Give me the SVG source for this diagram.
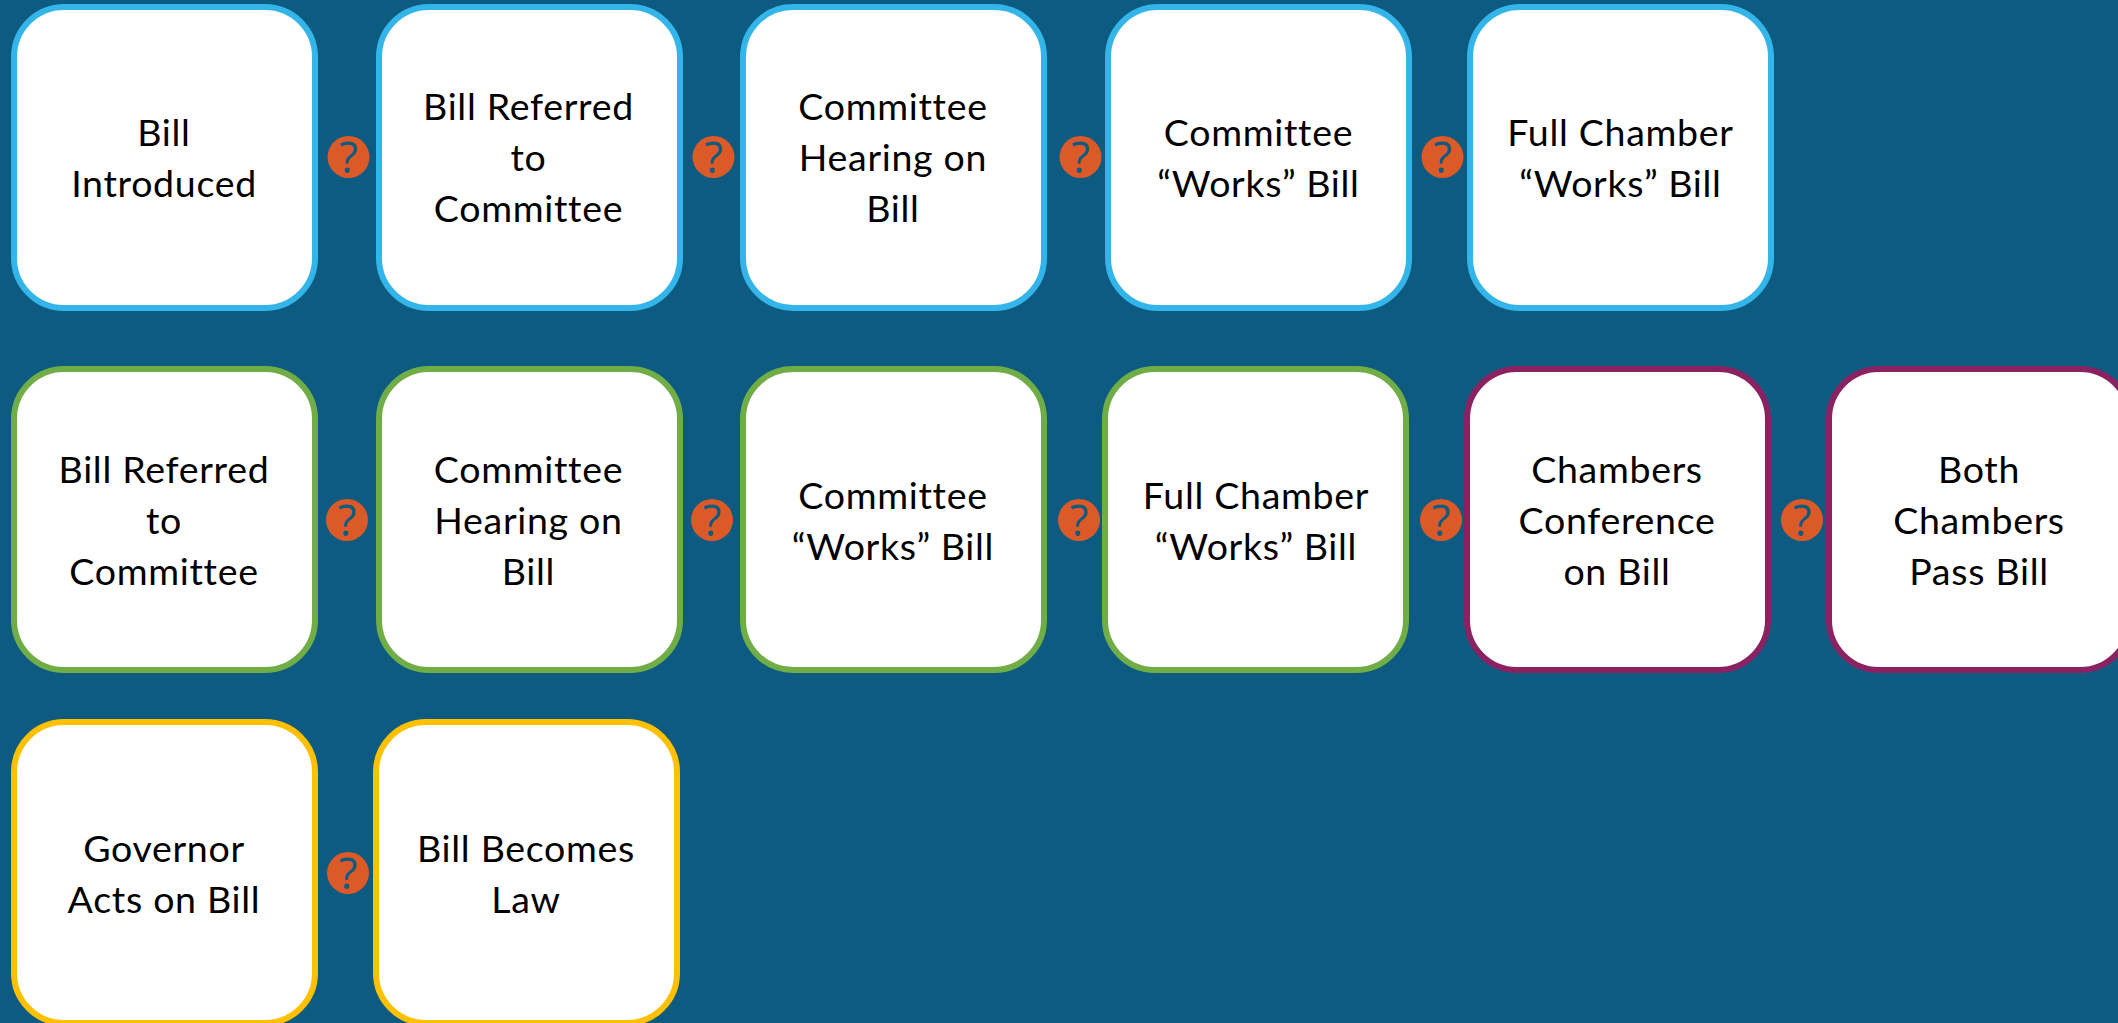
<svg xmlns="http://www.w3.org/2000/svg" width="2118" height="1023" viewBox="0 0 2118 1023">
<style>
.box{fill:#fff;stroke-width:6}
.blue{stroke:#33B5EA}.green{stroke:#70AD47}.purple{stroke:#8A2262}.gold{stroke:#FFC000}
.t{font-family:"Lato","Open Sans",sans-serif;font-size:37.5px;letter-spacing:.7px;fill:#000;text-anchor:middle}
.ic{fill:#DC5A28}
.q{font-family:"Open Sans",sans-serif;font-size:43px;fill:#0D5B80;text-anchor:middle}
</style>
<rect width="2118" height="1023" fill="#0D5B80"/>
<g id="connectors"></g>
<g id="n1"><rect class="box blue" x="14" y="7" width="301" height="301" rx="50"/><text class="t" x="164" y="146">Bill</text><text class="t" x="164" y="197">Introduced</text></g>
<g id="n2"><rect class="box blue" x="379" y="7" width="301" height="301" rx="50"/><text class="t" x="528.5" y="120">Bill Referred</text><text class="t" x="528.5" y="171">to</text><text class="t" x="528.5" y="222">Committee</text></g>
<g id="n3"><rect class="box blue" x="743" y="7" width="301" height="301" rx="50"/><text class="t" x="893" y="120">Committee</text><text class="t" x="893" y="171">Hearing on</text><text class="t" x="893" y="222">Bill</text></g>
<g id="n4"><rect class="box blue" x="1108" y="7" width="301" height="301" rx="50"/><text class="t" x="1258.5" y="146">Committee</text><text class="t" x="1258.5" y="197">“Works” Bill</text></g>
<g id="n5"><rect class="box blue" x="1470" y="7" width="301" height="301" rx="50"/><text class="t" x="1620.5" y="146">Full Chamber</text><text class="t" x="1620.5" y="197">“Works” Bill</text></g>
<g id="n6"><rect class="box green" x="14" y="369" width="301" height="301" rx="50"/><text class="t" x="164" y="483">Bill Referred</text><text class="t" x="164" y="534">to</text><text class="t" x="164" y="585">Committee</text></g>
<g id="n7"><rect class="box green" x="379" y="369" width="301" height="301" rx="50"/><text class="t" x="528.5" y="483">Committee</text><text class="t" x="528.5" y="534">Hearing on</text><text class="t" x="528.5" y="585">Bill</text></g>
<g id="n8"><rect class="box green" x="743" y="369" width="301" height="301" rx="50"/><text class="t" x="893" y="509">Committee</text><text class="t" x="893" y="560">“Works” Bill</text></g>
<g id="n9"><rect class="box green" x="1105" y="369" width="301" height="301" rx="50"/><text class="t" x="1256" y="509">Full Chamber</text><text class="t" x="1256" y="560">“Works” Bill</text></g>
<g id="n10"><rect class="box purple" x="1467" y="369" width="301" height="301" rx="50"/><text class="t" x="1617" y="483">Chambers</text><text class="t" x="1617" y="534">Conference</text><text class="t" x="1617" y="585">on Bill</text></g>
<g id="n11"><rect class="box purple" x="1829" y="369" width="301" height="301" rx="50"/><text class="t" x="1979" y="483">Both</text><text class="t" x="1979" y="534">Chambers</text><text class="t" x="1979" y="585">Pass Bill</text></g>
<g id="n12"><rect class="box gold" x="14" y="722" width="301" height="301" rx="50"/><text class="t" x="164" y="862">Governor</text><text class="t" x="164" y="913">Acts on Bill</text></g>
<g id="n13"><rect class="box gold" x="376" y="722" width="301" height="301" rx="50"/><text class="t" x="526" y="862">Bill Becomes</text><text class="t" x="526" y="913">Law</text></g>
<g id="i1"><circle class="ic" cx="348.5" cy="157" r="21"/><text class="q" x="348.5" y="173">?</text></g>
<g id="i2"><circle class="ic" cx="713.5" cy="157" r="21"/><text class="q" x="713.5" y="173">?</text></g>
<g id="i3"><circle class="ic" cx="1080.5" cy="157" r="21"/><text class="q" x="1080.5" y="173">?</text></g>
<g id="i4"><circle class="ic" cx="1442.5" cy="157" r="21"/><text class="q" x="1442.5" y="173">?</text></g>
<g id="i5"><circle class="ic" cx="347" cy="520" r="21"/><text class="q" x="347" y="536">?</text></g>
<g id="i6"><circle class="ic" cx="712" cy="520" r="21"/><text class="q" x="712" y="536">?</text></g>
<g id="i7"><circle class="ic" cx="1079" cy="520" r="21"/><text class="q" x="1079" y="536">?</text></g>
<g id="i8"><circle class="ic" cx="1441" cy="520" r="21"/><text class="q" x="1441" y="536">?</text></g>
<g id="i9"><circle class="ic" cx="1802" cy="520" r="21"/><text class="q" x="1802" y="536">?</text></g>
<g id="i10"><circle class="ic" cx="348" cy="873" r="21"/><text class="q" x="348" y="889">?</text></g>
</svg>
